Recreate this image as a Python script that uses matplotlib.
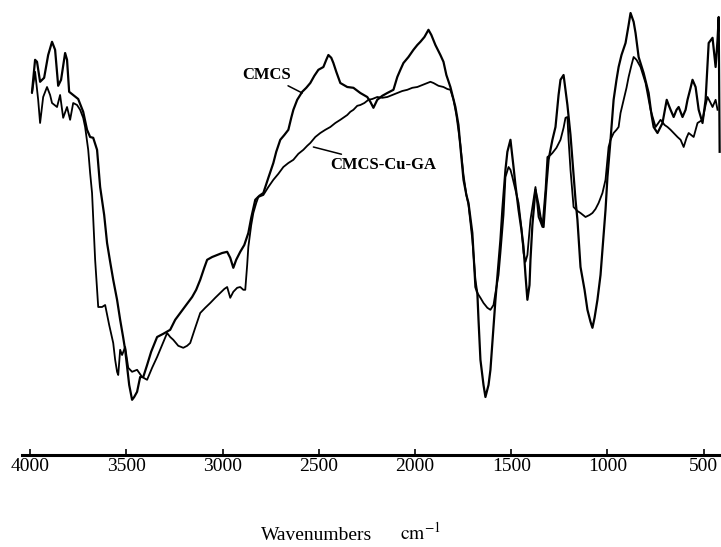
import matplotlib
matplotlib.use("Agg")
import matplotlib.pyplot as plt

# ---------------- data (wavenumber cm^-1, transmittance a.u.) ----------------
cmcs_w = [3990, 3974, 3964, 3948, 3927, 3906, 3886, 3870, 3854, 3839, 3818, 3808, 3797,
          3771, 3750, 3724, 3704, 3688, 3672, 3652, 3636, 3615, 3600, 3584, 3568, 3548,
          3532, 3516, 3506, 3496, 3485, 3470, 3459, 3444, 3428, 3412, 3392, 3371, 3340,
          3308, 3272, 3246, 3220, 3189, 3158, 3137, 3116, 3095, 3080, 3054, 3028, 3002,
          2976, 2960, 2944, 2929, 2908, 2887, 2866, 2851, 2830, 2809, 2788, 2762, 2736,
          2721, 2700, 2679, 2658, 2643, 2632, 2612, 2586, 2565, 2544, 2523, 2502, 2476,
          2461, 2450, 2435, 2424, 2409, 2388, 2352, 2320, 2284, 2248, 2232, 2216, 2196,
          2170, 2144, 2112, 2092, 2076, 2060, 2034, 2008, 1988, 1972, 1951, 1930, 1915,
          1894, 1868, 1852, 1837, 1816, 1790, 1774, 1764, 1748, 1733, 1722, 1702, 1686,
          1676, 1670, 1660, 1644, 1634, 1618, 1608, 1592, 1582, 1572, 1556, 1546, 1530,
          1520, 1504, 1488, 1478, 1462, 1447, 1436, 1426, 1416, 1405, 1400, 1390, 1374,
          1358, 1348, 1332, 1317, 1306, 1286, 1270, 1254, 1244, 1228, 1218, 1208, 1192,
          1182, 1166, 1156, 1140, 1119, 1104, 1088, 1078, 1067, 1052, 1036, 1026, 1010,
          1000, 984, 968, 953, 942, 927, 906, 890, 880, 864, 854, 838, 812, 786, 771,
          760, 740, 714, 692, 682, 672, 656, 641, 630, 610, 594, 584, 568, 558, 542,
          526, 506, 490, 480, 474, 454, 438, 428, 422, 417]
cmcs_t = [90.8, 98.8, 98.3, 93.3, 94.3, 100.0, 103.3, 101.3, 92.3, 93.8, 100.5, 98.8, 90.8,
          89.8, 89.0, 85.8, 81.3, 79.5, 79.3, 76.3, 67.0, 60.0, 53.0, 48.3, 43.8, 38.8,
          33.8, 29.3, 26.3, 22.0, 17.5, 13.8, 14.5, 15.8, 19.5, 19.5, 22.5, 25.8, 29.5,
          30.3, 31.3, 33.8, 35.5, 37.5, 39.5, 41.3, 43.8, 46.8, 48.8, 49.5, 50.0, 50.5,
          50.8, 49.3, 46.8, 48.8, 50.8, 52.5, 55.5, 59.3, 63.8, 64.8, 65.5, 69.3, 73.0,
          75.8, 78.8, 80.0, 81.3, 84.3, 86.3, 88.8, 90.8, 91.8, 93.0, 94.8, 96.3, 97.0,
          98.8, 100.0, 99.3, 98.0, 95.8, 93.0, 92.0, 91.8, 90.5, 89.5, 88.3, 86.8, 88.8,
          89.8, 90.5, 91.3, 94.5, 96.3, 98.0, 99.5, 101.3, 102.5, 103.3, 104.5, 106.3, 105.0,
          102.5, 100.0, 98.3, 95.0, 92.0, 87.0, 82.5, 77.0, 68.8, 65.0, 63.0, 55.5, 42.0,
          40.5, 33.8, 23.8, 17.5, 14.5, 17.5, 21.3, 32.0, 38.8, 44.5, 53.8, 61.3, 71.3,
          75.8, 78.8, 72.0, 67.5, 61.3, 56.3, 52.0, 45.0, 38.8, 42.5, 48.8, 57.5, 66.3,
          62.5, 59.5, 57.0, 67.5, 73.8, 78.8, 82.0, 90.0, 93.8, 95.0, 91.3, 87.5, 80.0,
          73.8, 63.8, 58.8, 47.0, 41.3, 36.3, 33.3, 31.8, 34.3, 38.8, 45.0, 51.3, 61.3,
          69.5, 78.8, 88.8, 93.8, 97.0, 100.0, 103.0, 107.5, 110.5, 108.3, 105.5, 99.5, 95.5, 90.5, 85.0,
          82.0, 80.5, 83.0, 88.8, 87.5, 86.3, 84.5, 86.3, 87.0, 84.5, 86.3, 88.8, 91.8, 93.8, 92.0,
          86.3, 83.0, 88.8, 97.5, 103.0, 104.3, 97.0, 103.8, 109.5, 75.8]

gel_w = [3990, 3974, 3958, 3948, 3932, 3912, 3896, 3886, 3860, 3844, 3828, 3808, 3792,
         3776, 3756, 3740, 3724, 3714, 3698, 3688, 3678, 3662, 3646, 3626, 3610, 3589,
         3568, 3558, 3548, 3542, 3532, 3522, 3506, 3490, 3470, 3444, 3418, 3392, 3366,
         3340, 3314, 3288, 3272, 3256, 3230, 3204, 3184, 3168, 3142, 3116, 3090, 3064,
         3038, 3012, 2991, 2976, 2960, 2944, 2924, 2908, 2892, 2882, 2872, 2866, 2851,
         2840, 2825, 2814, 2788, 2762, 2736, 2710, 2684, 2658, 2632, 2606, 2580, 2560,
         2544, 2518, 2492, 2466, 2440, 2414, 2388, 2367, 2352, 2336, 2320, 2300, 2284,
         2263, 2242, 2222, 2196, 2170, 2144, 2118, 2092, 2066, 2040, 2014, 1988, 1962,
         1936, 1920, 1904, 1878, 1852, 1832, 1816, 1800, 1785, 1764, 1748, 1733, 1722,
         1702, 1686, 1676, 1660, 1644, 1624, 1608, 1592, 1582, 1566, 1556, 1540, 1530,
         1514, 1504, 1494, 1478, 1462, 1447, 1436, 1426, 1416, 1400, 1384, 1374, 1364,
         1358, 1348, 1338, 1322, 1312, 1296, 1286, 1265, 1244, 1228, 1218, 1208, 1202,
         1192, 1176, 1156, 1140, 1114, 1093, 1078, 1062, 1046, 1026, 1010, 994, 984,
         968, 953, 942, 932, 916, 901, 890, 875, 864, 849, 828, 802, 776, 750, 724,
         703, 688, 672, 656, 636, 620, 604, 589, 578, 552, 532, 506, 490, 480, 464,
         454, 438, 428]
gel_t = [90.5, 95.8, 88.8, 83.0, 89.5, 92.0, 90.0, 88.0, 87.0, 90.0, 84.3, 87.0, 83.8,
         88.0, 87.5, 86.3, 84.3, 82.0, 76.3, 70.5, 65.5, 48.8, 37.0, 37.0, 37.5, 32.5,
         28.0, 23.8, 20.8, 20.0, 26.3, 25.0, 27.0, 21.8, 20.8, 21.3, 19.5, 18.8, 21.8,
         24.5, 27.5, 30.5, 29.5, 28.8, 27.3, 26.8, 27.3, 28.0, 31.8, 35.5, 36.8, 38.0,
         39.3, 40.5, 41.5, 42.0, 39.3, 40.8, 41.8, 42.0, 41.3, 41.3, 47.5, 52.0, 57.5,
         60.5, 63.0, 64.5, 65.0, 67.0, 68.8, 70.3, 72.0, 73.0, 73.8, 75.3, 76.3, 77.3,
         78.0, 79.5, 80.5, 81.3, 82.0, 83.0, 83.8, 84.5, 85.0, 85.8, 86.3, 87.3, 87.5,
         88.0, 88.8, 89.0, 89.5, 89.3, 89.5, 90.0, 90.5, 91.0, 91.3, 91.8, 92.0, 92.5,
         93.0, 93.3, 93.0, 92.3, 92.0, 91.5, 91.3, 88.8, 85.0, 77.5, 70.0, 65.0, 62.5,
         53.8, 43.8, 40.5, 39.3, 38.0, 36.8, 36.3, 37.5, 40.5, 45.0, 50.5, 60.0, 69.5,
         72.0, 71.3, 69.5, 66.3, 63.0, 56.8, 50.5, 48.3, 50.0, 58.8, 63.8, 67.0, 62.5,
         59.5, 58.3, 57.0, 66.3, 74.5, 75.0, 75.5, 76.8, 78.8, 81.8, 84.3, 84.5, 78.8,
         71.3, 62.0, 61.0, 60.5, 59.5, 60.0, 60.5, 61.5, 63.0, 65.5, 68.8, 77.0, 78.8,
         80.5, 81.3, 82.0, 85.5, 88.8, 91.8, 94.5, 97.5, 99.5, 98.8, 97.0, 93.0, 86.3, 82.0, 83.8,
         82.5, 82.0, 81.3, 80.5, 79.5, 78.8, 77.0, 79.3, 80.5, 79.5, 83.0, 83.8, 87.5, 89.5, 88.0,
         87.0, 88.8, 86.3]

tick_values = [4000, 3500, 3000, 2500, 2000, 1500, 1000, 500]
tick_labels = ["4000", "3500", "3000", "2500", "2000", "1500", "1000", "500"]
series_names = ["CMCS", "CMCS-Cu-GA"]

# ---------------- figure ----------------
plt.rcParams["font.family"] = ["Liberation Serif", "DejaVu Serif"]
plt.rcParams["mathtext.fontset"] = "stix"

W, H = 721, 547
fig = plt.figure(figsize=(W / 100, H / 100), dpi=100)
ax = fig.add_axes([22 / W, 1 - 455 / H, 1 - 22 / W, 455 / H])

ax.plot(cmcs_w, cmcs_t, color="black", lw=1.6, solid_joinstyle="round")
ax.plot(gel_w, gel_t, color="black", lw=1.3, solid_joinstyle="round")

ax.set_xlim(4042, 410)
ax.set_ylim(0, 113.75)

for s in ["left", "right", "top"]:
    ax.spines[s].set_visible(False)
ax.spines["bottom"].set_linewidth(2.2)
ax.set_yticks([])
ax.set_xticks(tick_values)
ax.set_xticklabels(tick_labels)
ax.tick_params(axis="x", direction="in", length=4, width=1.2, pad=2, labelsize=14)

# annotations
ax.annotate(series_names[0], xy=(2586, 90.5), xytext=(2643, 95.0),
            ha="right", va="center", fontsize=12, fontweight="bold",
            arrowprops=dict(arrowstyle="-", color="black", lw=1.1, shrinkA=0, shrinkB=0))
ax.annotate(series_names[1], xy=(2528, 77.0), xytext=(2440, 72.5),
            ha="left", va="center", fontsize=12, fontweight="bold",
            arrowprops=dict(arrowstyle="-", color="black", lw=1.1, shrinkA=0, shrinkB=0))

fig.text(317 / W, 1 - 535 / H, "Wavenumbers", ha="center", va="center", fontsize=14)
fig.text(420 / W, 1 - 533 / H, r"$\mathrm{cm}^{-1}$", ha="center", va="center", fontsize=14)

fig.savefig("out.png", dpi=100)
